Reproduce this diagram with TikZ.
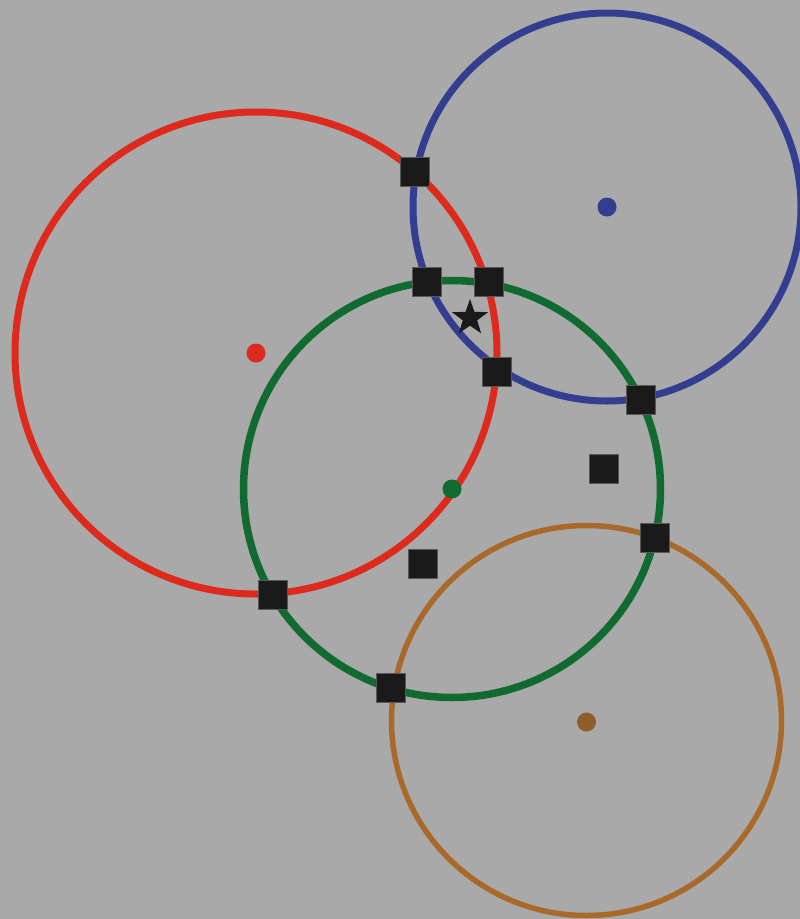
\documentclass[tikz,border=0pt]{standalone}
\usetikzlibrary{shapes.geometric}
\definecolor{bg}{HTML}{A9A9A9}
\definecolor{cred}{HTML}{DE2A1C}
\definecolor{cblue}{HTML}{343E90}
\definecolor{cgreen}{HTML}{116A30}
\definecolor{cbrown}{HTML}{A8692A}
\definecolor{cbrowndot}{HTML}{8F5D2A}
\definecolor{sq}{HTML}{1A1A1A}
\begin{document}
\begin{tikzpicture}[x=1pt,y=-1pt,
  ctr/.style={circle,inner sep=0pt,minimum size=19pt},
  sqbox/.style={rectangle,fill=sq,draw=gray!70!black,line width=0.8pt,minimum size=29pt,inner sep=0pt},
  starmark/.style={star,star points=5,star point ratio=2.5,fill=sq,inner sep=0pt,minimum size=38pt}]
\fill[bg] (0,0) rectangle (800,919);
\useasboundingbox (0,0) rectangle (800,919);
% circle centres
\coordinate (rc) at (256,353);
\coordinate (bc) at (607,207);
\coordinate (gc) at (452,489);
\coordinate (oc) at (586.5,720.5);
% circles
\draw[cred,line width=7pt] (rc) circle[radius=241];
\draw[cblue,line width=7pt] (bc) circle[radius=194];
\draw[cgreen,line width=7.5pt] (gc) circle[radius=208.5];
\draw[cbrown,line width=5.5pt] (oc) circle[radius=195];
% centre dots
\node[ctr,fill=cred] (rd) at (256,353) {};
\node[ctr,fill=cblue] (bd) at (607,207) {};
\node[ctr,fill=cgreen] (gd) at (452,489) {};
\node[ctr,fill=cbrowndot] (od) at (586.5,722) {};
% squares
\node[sqbox] (s1) at (414.5,171.5) {};
\node[sqbox] (s2) at (426.5,281.5) {};
\node[sqbox] (s3) at (488.5,281.5) {};
\node[sqbox] (s4) at (497,372) {};
\node[sqbox] (s5) at (640.5,399.5) {};
\node[sqbox] (s6) at (603.5,468.5) {};
\node[sqbox] (s7) at (654.5,538) {};
\node[sqbox] (s8) at (422.5,563.5) {};
\node[sqbox] (s9) at (272.5,594.5) {};
\node[sqbox] (s10) at (390.5,687.5) {};
% star
\node[starmark] (st) at (470,318) {};
\end{tikzpicture}
\end{document}
